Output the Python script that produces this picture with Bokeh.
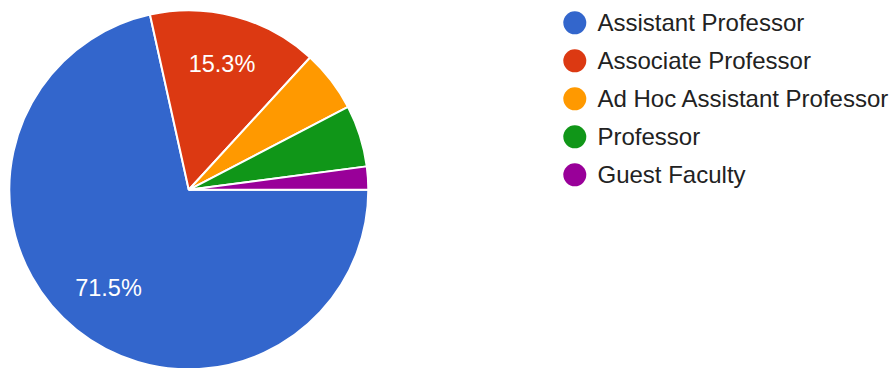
import numpy as np
from bokeh.plotting import figure
from bokeh.models import Range1d, ColumnDataSource
from bokeh.core.properties import value
from bokeh.embed import file_html
from bokeh.resources import INLINE

# ---- data ----
categories = ["Assistant Professor", "Associate Professor", "Ad Hoc Assistant Professor",
              "Professor", "Guest Faculty"]
counts = [103, 22, 8, 8, 3]
colors = ["#3366cc", "#dc3912", "#ff9900", "#109618", "#990099"]

# ---- layout (pixel-like coordinates) ----
W, H = 893, 368
CX, CY, R = 188.3, 178.7, 179.5
LEG_X, LEG_Y0, LEG_DY = 574.3, 345.7, 38.0
FONT = "Liberation Sans"

vals = np.array(counts, dtype=float)
frac = vals / vals.sum()
cum = np.concatenate([[0.0], np.cumsum(frac)])
# slices start at 3 o'clock and run clockwise
start = -cum[1:] * 2 * np.pi
end = -cum[:-1] * 2 * np.pi
mid = (start + end) / 2

src = ColumnDataSource(dict(start=start, end=end, color=colors, cat=categories))

p = figure(width=W, height=H, output_backend="svg", toolbar_location=None,
           x_range=Range1d(0, W), y_range=Range1d(0, H), min_border=0,
           outline_line_color=None, background_fill_color="white", border_fill_color="white")
p.axis.visible = False
p.grid.visible = False

p.wedge(x=CX, y=CY, radius=R, start_angle="start", end_angle="end", direction="anticlock",
        fill_color="color", line_color="white", line_width=2, source=src)

# percentage labels for large slices
lab_x, lab_y, lab_t = [], [], []
for f, m in zip(frac, mid):
    if f > 0.1:
        lab_x.append(CX + 0.715 * R * np.cos(m))
        lab_y.append(CY + 0.715 * R * np.sin(m) + 2)
        lab_t.append(f"{f*100:.1f}%")
p.text(x=lab_x, y=lab_y, text=lab_t, text_color="white", text_font=value(FONT),
       text_font_size="23.5px", text_align="center", text_baseline="middle")

# legend
ly = [LEG_Y0 - i * LEG_DY for i in range(len(categories))]
p.scatter(x=[LEG_X] * len(categories), y=ly, size=23, marker="circle",
          fill_color=colors, line_color=None)
p.text(x=[LEG_X + 22.7] * len(categories), y=ly, text=categories, text_color="#222222",
       text_font=value(FONT), text_font_size="24px", text_align="left", text_baseline="middle")

open("out.html", "w").write(file_html(p, INLINE))
